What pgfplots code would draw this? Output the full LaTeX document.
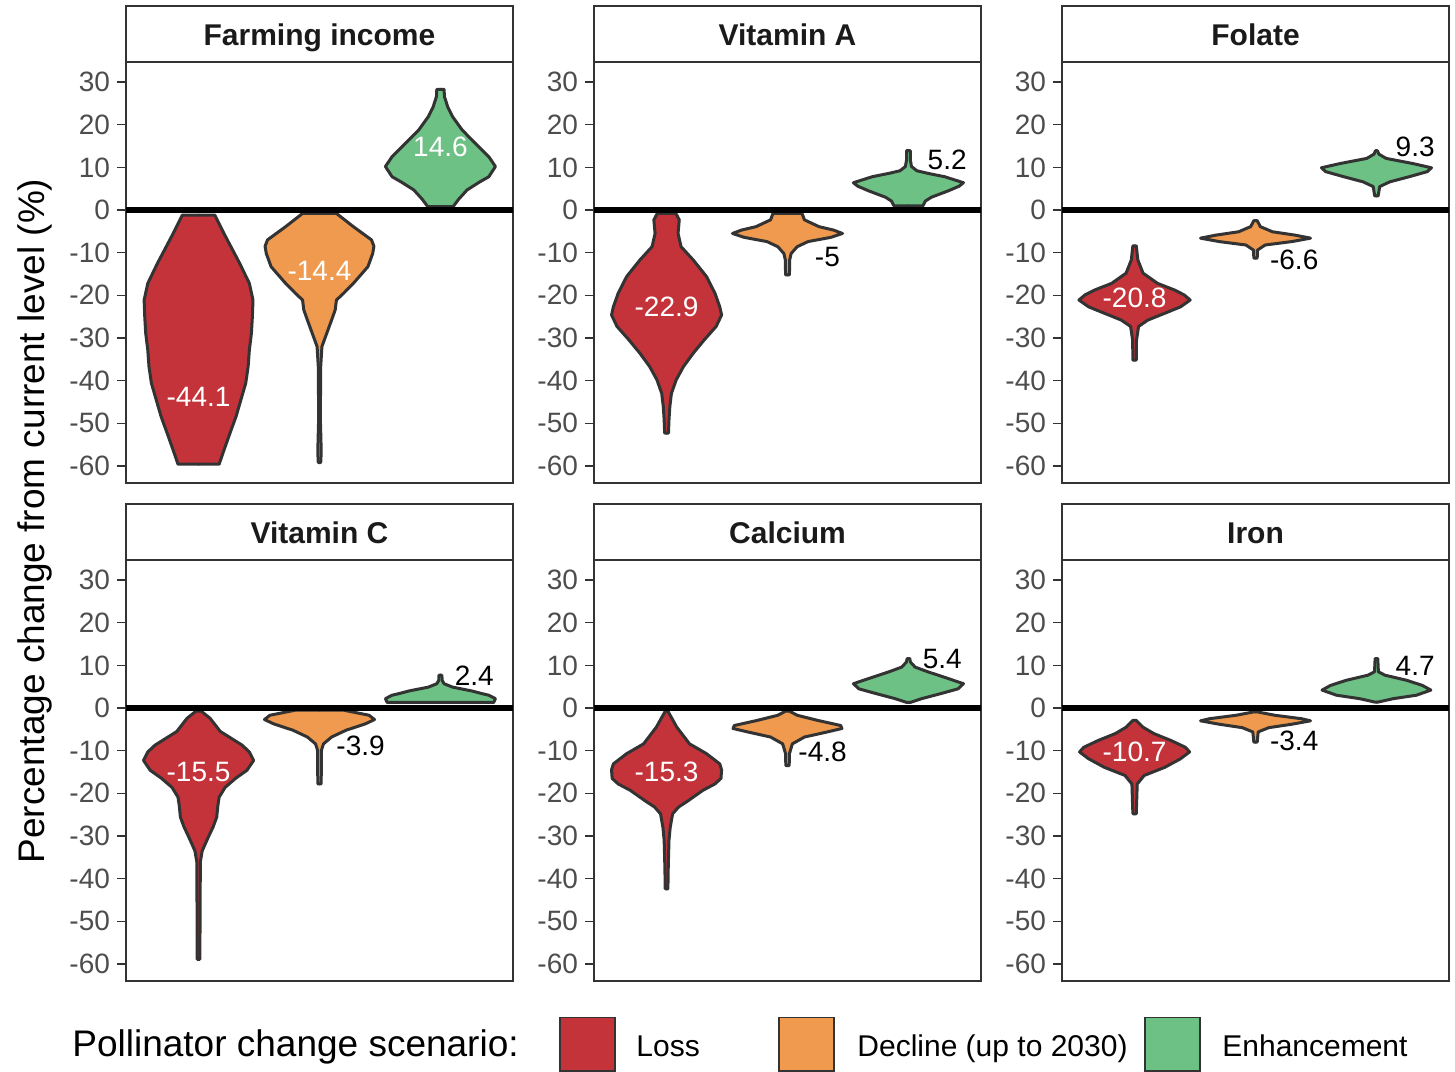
\documentclass[border=0pt]{standalone}
\usepackage{fontspec}
\setmainfont{Liberation Sans}
\usepackage{pgfplots}
\pgfplotsset{compat=1.18}
\usepackage{pgfplotstable}
\usepgfplotslibrary{fillbetween}
\definecolor{grey20}{HTML}{333333}
\definecolor{grey30}{HTML}{4D4D4D}
\definecolor{grey10}{HTML}{1A1A1A}
\definecolor{cLoss}{HTML}{C5333A}
\definecolor{cDecl}{HTML}{F09A4F}
\definecolor{cEnh}{HTML}{6DC184}
\newcommand{\tickfont}{\fontsize{14}{16}\selectfont}
\newcommand{\stripfont}{\fontsize{15}{17}\selectfont\bfseries}

% ---- violin outlines: y, half-width (x units) ----
\pgfplotstableread{
y w
-59.6 0
-59.6 0.17
-56.3 0.21
-52.3 0.26
-48.4 0.31
-44.5 0.35
-40.6 0.39
-36.7 0.41
-32.8 0.42
-28.9 0.437
-25.0 0.445
-21.1 0.45
-17.2 0.42
-12.5 0.34
-5.5 0.21
-1.2 0.135
-1.2 0
}\FIloss
\pgfplotstableread{
y w
-59.2 0
-59.2 0.01
-57 0.014
-54 0.012
-50 0.008
-44.5 0.008
-36.7 0.01
-32.0 0.02
-28.9 0.06
-25.8 0.10
-23.4 0.13
-21.1 0.14
-19.5 0.2
-17.2 0.28
-13.3 0.40
-10.2 0.44
-8.5 0.45
-7.0 0.43
-3.9 0.28
-0.8 0.14
-0.8 0
}\FIdecl
\pgfplotstableread{
y w
0.8 0
0.8 0.105
2.5 0.15
4.7 0.22
6.5 0.32
7.8 0.40
10.2 0.455
12.5 0.40
15.6 0.29
18.75 0.18
21.9 0.10
24.2 0.06
26.6 0.033
28.3 0.03
28.3 0
}\FIenh
\pgfplotstableread{
y w
-52.3 0
-52.3 0.016
-49.2 0.02
-46.1 0.027
-43.0 0.04
-39.8 0.08
-36.7 0.14
-33.6 0.22
-30.5 0.31
-27.3 0.41
-24.6 0.455
-22.7 0.44
-19.5 0.40
-15.6 0.33
-11.7 0.22
-8.6 0.12
-5.5 0.095
-2.3 0.105
-0.8 0.077
-0.8 0
}\VAloss
\pgfplotstableread{
y w
-15.2 0
-15.2 0.016
-11.7 0.018
-10.2 0.03
-8.6 0.08
-7.4 0.17
-6.4 0.36
-5.5 0.455
-4.7 0.38
-3.9 0.26
-2.3 0.14
-0.8 0.12
-0.8 0
}\VAdecl
\pgfplotstableread{
y w
1.0 0
1.0 0.12
2.1 0.14
3.0 0.19
4.5 0.33
5.6 0.42
6.4 0.455
7.8 0.30
8.6 0.16
9.2 0.07
10.2 0.025
11.7 0.016
13.9 0.016
13.9 0
}\VAenh
\pgfplotstableread{
y w
-35.2 0
-35.2 0.014
-30.5 0.016
-27.3 0.033
-25.8 0.11
-24.2 0.25
-22.7 0.38
-21.1 0.46
-19.9 0.41
-18.75 0.33
-17.2 0.19
-14.8 0.07
-11.7 0.027
-8.4 0.014
-8.4 0
}\FOloss
\pgfplotstableread{
y w
-11.3 0
-11.3 0.014
-9.4 0.016
-8.2 0.08
-7.4 0.30
-6.6 0.455
-5.9 0.33
-5.1 0.14
-3.9 0.04
-2.5 0.014
-2.5 0
}\FOdecl
\pgfplotstableread{
y w
3.3 0
3.3 0.014
5.5 0.027
6.6 0.11
7.8 0.27
9.0 0.42
9.9 0.455
10.9 0.30
12.1 0.08
13.1 0.02
13.9 0.008
13.9 0
}\FOenh
\pgfplotstableread{
y w
-58.9 0
-58.9 0.011
-45 0.013
-36 0.015
-33.5 0.03
-32.2 0.05
-30.3 0.08
-27.9 0.12
-25.6 0.15
-22.8 0.16
-20.9 0.17
-18.6 0.22
-16.4 0.31
-14.6 0.40
-12.3 0.455
-10.3 0.42
-8.7 0.36
-7.1 0.27
-5.5 0.18
-2.4 0.095
-0.7 0.02
-0.7 0
}\VCloss
\pgfplotstableread{
y w
-17.8 0
-17.8 0.014
-9.9 0.016
-8.4 0.033
-6.8 0.10
-5.2 0.22
-3.7 0.38
-2.7 0.455
-1.7 0.41
-0.5 0.2
-0.5 0
}\VCdecl
\pgfplotstableread{
y w
1.3 0
1.3 0.44
2.2 0.455
3.0 0.40
3.4 0.34
4.0 0.26
4.9 0.10
5.7 0.03
6.5 0.014
7.7 0.012
7.7 0
}\VCenh
\pgfplotstableread{
y w
-42.4 0
-42.4 0.011
-37.3 0.014
-31.0 0.02
-28.0 0.03
-24.8 0.05
-23.2 0.10
-21.7 0.18
-19.3 0.30
-17.8 0.40
-16.5 0.45
-14.5 0.455
-13.1 0.44
-10.7 0.33
-8.4 0.19
-4.5 0.085
-0.7 0.01
-0.7 0
}\CAloss
\pgfplotstableread{
y w
-13.5 0
-13.5 0.014
-10.7 0.016
-8.4 0.04
-6.8 0.14
-5.6 0.33
-4.8 0.45
-4.1 0.44
-2.9 0.25
-1.7 0.08
-0.7 0.014
-0.7 0
}\CAdecl
\pgfplotstableread{
y w
1.3 0
1.3 0.014
2.2 0.11
3.4 0.27
4.5 0.41
5.7 0.455
6.9 0.33
8.5 0.16
9.6 0.055
10.8 0.016
11.6 0.011
11.6 0
}\CAenh
\pgfplotstableread{
y w
-24.8 0
-24.8 0.014
-17.8 0.022
-15.8 0.08
-13.9 0.25
-11.9 0.38
-10.3 0.455
-9.2 0.42
-7.6 0.30
-6.0 0.16
-4.5 0.07
-2.9 0.014
-2.9 0
}\FEloss
\pgfplotstableread{
y w
-8.0 0
-8.0 0.014
-5.6 0.022
-4.6 0.11
-3.8 0.30
-3.0 0.455
-2.5 0.38
-1.7 0.16
-0.9 0.014
-0.9 0
}\FEdecl
\pgfplotstableread{
y w
1.4 0
1.4 0.014
2.2 0.14
3.0 0.33
4.2 0.45
5.3 0.38
6.5 0.25
7.7 0.07
8.5 0.016
11.6 0.011
11.6 0
}\FEenh

\pgfplotsset{
  panel/.style={
    anchor=north west, scale only axis, width=193.5pt, height=210.5pt,
    xmin=0.4, xmax=3.6, ymin=-64, ymax=34.7,
    xtick=\empty,
    ytick={-60,-50,-40,-30,-20,-10,0,10,20,30},
    yticklabels={-60,-50,-40,-30,-20,-10,0,10,20,30},
    ytick pos=left, tick align=outside, major tick length=4.5pt,
    tick style={draw=grey20, line width=0.6pt},
    axis line style={draw=grey20, line width=0.6pt},
    yticklabel style={font=\tickfont, text=grey30},
    clip=true,
  },
  vline/.style={draw=grey20, line width=1.5pt, line join=round, line cap=round, mark=none},
  lab/.style={only marks, mark=none, point meta=explicit symbolic, nodes near coords,
    nodes near coords align=center,
    every node near coord/.append style={font=\tickfont, text=#1, inner sep=0pt, anchor=center}},
  zero/.style={black, line width=3.2pt, forget plot},
}
\newcommand{\violin}[4]{%
  \addplot[vline, name path=R#1] table[x expr=#2+\thisrow{w}, y=y] {#3};
  \addplot[vline, name path=L#1] table[x expr=#2-\thisrow{w}, y=y] {#3};
  \addplot[fill=#4, draw=none] fill between[of=R#1 and L#1];
}

\begin{document}
\begin{tikzpicture}
\path (0pt,0pt) rectangle (727.5pt,-535.5pt);

% ---------- Farming income ----------
\begin{axis}[panel, at={(63pt,-31pt)}]
\violin{a}{1}{\FIloss}{cLoss}
\violin{b}{2}{\FIdecl}{cDecl}
\violin{c}{3}{\FIenh}{cEnh}
\addplot[zero] coordinates {(0.4,0) (3.6,0)};
\addplot[lab=white] coordinates {(1,-43.8) [-44.1] (2,-14.2) [-14.4] (3,14.8) [14.6]};
\end{axis}

% ---------- Vitamin A ----------
\begin{axis}[panel, at={(297pt,-31pt)}]
\violin{a}{1}{\VAloss}{cLoss}
\violin{b}{2}{\VAdecl}{cDecl}
\violin{c}{3}{\VAenh}{cEnh}
\addplot[zero] coordinates {(0.4,0) (3.6,0)};
\addplot[lab=white] coordinates {(1,-22.7) [-22.9]};
\addplot[lab=black] coordinates {(2.33,-10.9) [-5] (3.32,11.7) [5.2]};
\end{axis}

% ---------- Folate ----------
\begin{axis}[panel, at={(531pt,-31pt)}]
\violin{a}{1}{\FOloss}{cLoss}
\violin{b}{2}{\FOdecl}{cDecl}
\violin{c}{3}{\FOenh}{cEnh}
\addplot[zero] coordinates {(0.4,0) (3.6,0)};
\addplot[lab=white] coordinates {(1,-20.6) [-20.8]};
\addplot[lab=black] coordinates {(2.32,-11.6) [-6.6] (3.32,14.7) [9.3]};
\end{axis}

% ---------- Vitamin C ----------
\begin{axis}[panel, at={(63pt,-280pt)}]
\violin{a}{1}{\VCloss}{cLoss}
\violin{b}{2}{\VCdecl}{cDecl}
\violin{c}{3}{\VCenh}{cEnh}
\addplot[zero] coordinates {(0.4,0) (3.6,0)};
\addplot[lab=white] coordinates {(1,-15.1) [-15.5]};
\addplot[lab=black] coordinates {(2.34,-8.8) [-3.9] (3.28,7.5) [2.4]};
\end{axis}

% ---------- Calcium ----------
\begin{axis}[panel, at={(297pt,-280pt)}]
\violin{a}{1}{\CAloss}{cLoss}
\violin{b}{2}{\CAdecl}{cDecl}
\violin{c}{3}{\CAenh}{cEnh}
\addplot[zero] coordinates {(0.4,0) (3.6,0)};
\addplot[lab=white] coordinates {(1,-15.0) [-15.3]};
\addplot[lab=black] coordinates {(2.29,-10.3) [-4.8] (3.28,11.6) [5.4]};
\end{axis}

% ---------- Iron ----------
\begin{axis}[panel, at={(531pt,-280pt)}]
\violin{a}{1}{\FEloss}{cLoss}
\violin{b}{2}{\FEdecl}{cDecl}
\violin{c}{3}{\FEenh}{cEnh}
\addplot[zero] coordinates {(0.4,0) (3.6,0)};
\addplot[lab=white] coordinates {(1,-10.2) [-10.7]};
\addplot[lab=black] coordinates {(2.32,-7.7) [-3.4] (3.32,9.9) [4.7]};
\end{axis}

% ---------- strips ----------
\begin{scope}[grey20, line width=0.9pt]
\draw (63pt,-3pt) rectangle (256.5pt,-31pt);
\draw (297pt,-3pt) rectangle (490.5pt,-31pt);
\draw (531pt,-3pt) rectangle (724.5pt,-31pt);
\draw (63pt,-252pt) rectangle (256.5pt,-280pt);
\draw (297pt,-252pt) rectangle (490.5pt,-280pt);
\draw (531pt,-252pt) rectangle (724.5pt,-280pt);
\end{scope}
\begin{scope}[every node/.style={text=grey10, font=\stripfont, inner sep=0pt, anchor=base}]
\node at (159.75pt,-22.5pt) {Farming income};
\node at (393.75pt,-22.5pt) {Vitamin A};
\node at (627.75pt,-22.5pt) {Folate};
\node at (159.75pt,-271.5pt) {Vitamin C};
\node at (393.75pt,-271.5pt) {Calcium};
\node at (627.75pt,-271.5pt) {Iron};
\end{scope}

% ---------- y label ----------
\node[rotate=90, font=\fontsize{18.5}{20}\selectfont, inner sep=0pt] at (17.5pt,-260.5pt) {Percentage change from current level (\%)};

% ---------- legend ----------
\node[anchor=base west, font=\fontsize{18.5}{20}\selectfont, inner sep=0pt] at (36pt,-528.3pt) {Pollinator change scenario:};
\draw[fill=cLoss, draw=grey20, line width=0.9pt] (280pt,-508.7pt) -- (280pt,-535.5pt) -- (307.5pt,-535.5pt) -- (307.5pt,-508.7pt) -- cycle;
\draw[fill=cDecl, draw=grey20, line width=0.9pt] (389.5pt,-508.7pt) -- (389.5pt,-535.5pt) -- (417pt,-535.5pt) -- (417pt,-508.7pt) -- cycle;
\draw[fill=cEnh, draw=grey20, line width=0.9pt] (572.5pt,-508.7pt) -- (572.5pt,-535.5pt) -- (600pt,-535.5pt) -- (600pt,-508.7pt) -- cycle;
\begin{scope}[every node/.style={anchor=base west, font=\fontsize{15}{17}\selectfont, inner sep=0pt}]
\node at (318pt,-528pt) {Loss};
\node at (428.5pt,-528pt) {Decline (up to 2030)};
\node at (611pt,-528pt) {Enhancement};
\end{scope}
\end{tikzpicture}
\end{document}
